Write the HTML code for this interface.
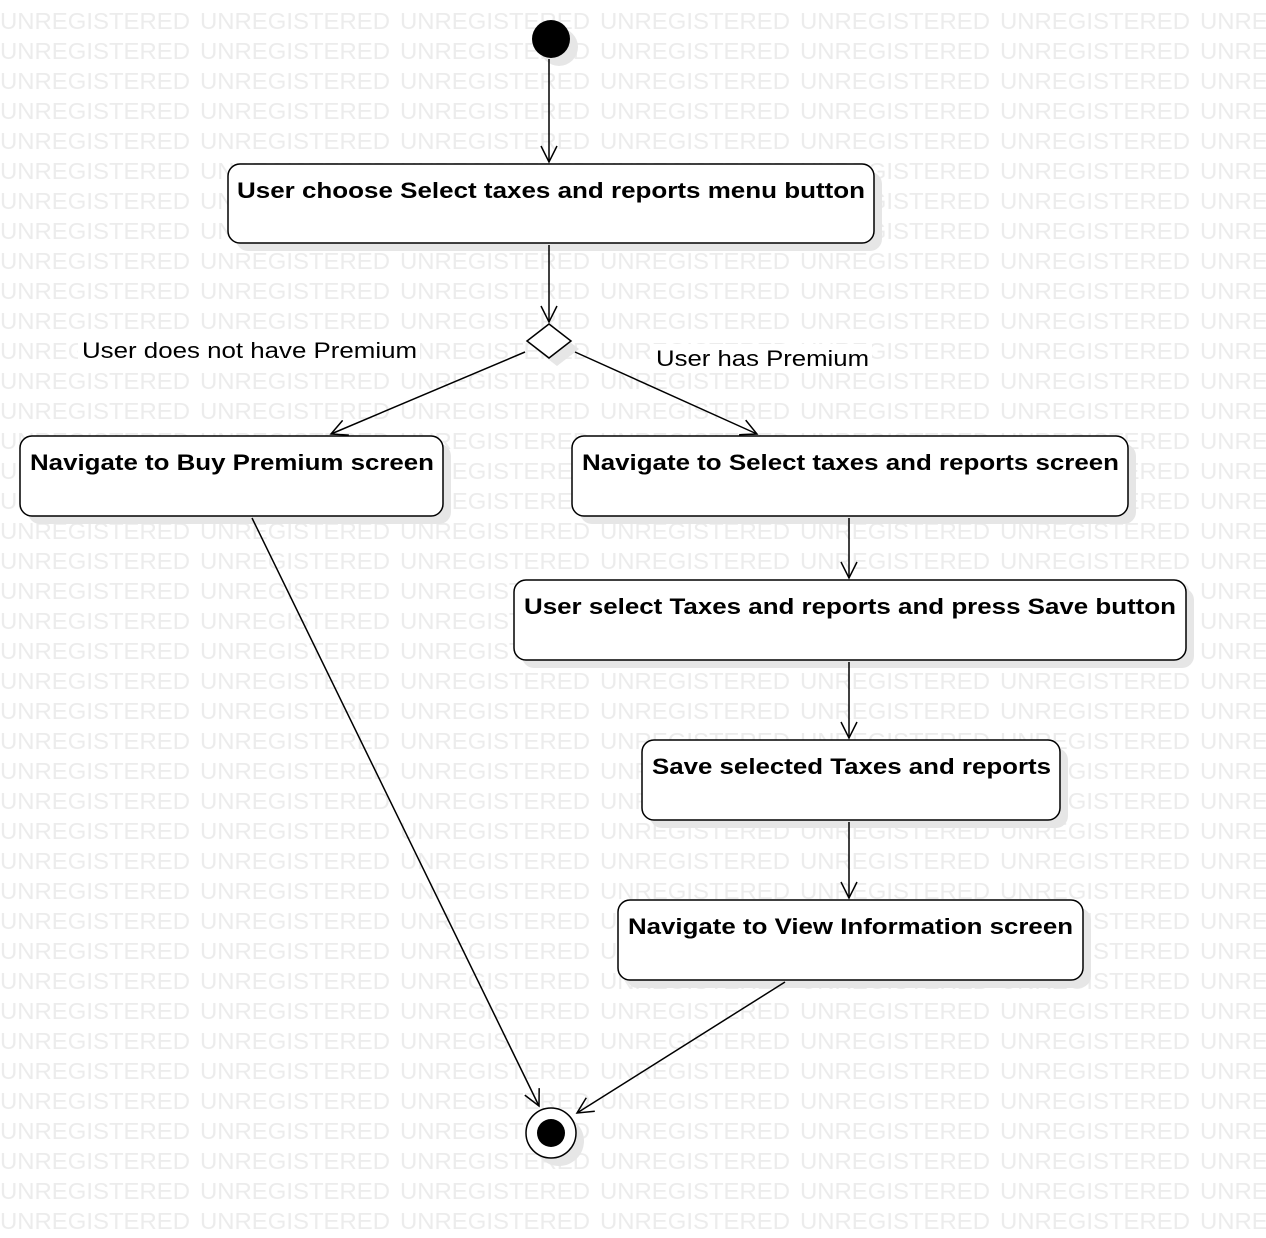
<!DOCTYPE html>
<html><head><meta charset="utf-8"><style>
html,body{margin:0;padding:0;background:#fff;}
svg{display:block;}
.wm{font-family:"Liberation Sans",sans-serif;font-size:23px;fill:#ececec;}
.b{font-family:"Liberation Sans",sans-serif;font-size:22px;font-weight:bold;fill:#000;}
.l{font-family:"Liberation Sans",sans-serif;font-size:22px;fill:#000;}
</style></head><body>
<svg width="1266" height="1238" viewBox="0 0 1266 1238" xmlns="http://www.w3.org/2000/svg">
<g id="wm"></g>
<script>
(function(){var g=document.getElementById('wm'),ns='http://www.w3.org/2000/svg';
for(var r=0;r<41;r++){for(var c=0;c<7;c++){var t=document.createElementNS(ns,'text');
t.setAttribute('x',c*200);t.setAttribute('y',29+r*30);t.setAttribute('class','wm');
t.setAttribute('textLength','190');t.setAttribute('lengthAdjust','spacingAndGlyphs');
t.textContent='UNREGISTERED';g.appendChild(t);}}})();
</script>
<defs>
<marker id="a" markerWidth="20" markerHeight="20" refX="18" refY="10" orient="auto" markerUnits="userSpaceOnUse">
<path d="M2,2 L18,10 L2,18" fill="none" stroke="#000" stroke-width="1.5"/>
</marker>
</defs>
<!-- shadows -->
<g fill="#e6e6e6">
<circle cx="559" cy="47" r="19"/>
<rect x="236" y="172" width="646" height="79" rx="12"/>
<rect x="28" y="444" width="423" height="80" rx="12"/>
<rect x="580" y="444" width="556" height="80" rx="12"/>
<rect x="522" y="588" width="672" height="80" rx="12"/>
<rect x="650" y="748" width="418" height="80" rx="12"/>
<rect x="626" y="908" width="465" height="80" rx="12"/>
<polygon points="557,332 579,349 557,366 535,349"/>
<circle cx="559" cy="1141" r="25"/>
</g>
<!-- start -->
<circle cx="551" cy="39" r="19" fill="#000"/>
<!-- boxes -->
<g fill="#fff" stroke="#000" stroke-width="1.5">
<rect x="228" y="164" width="646" height="79" rx="12"/>
<rect x="20" y="436" width="423" height="80" rx="12"/>
<rect x="572" y="436" width="556" height="80" rx="12"/>
<rect x="514" y="580" width="672" height="80" rx="12"/>
<rect x="642" y="740" width="418" height="80" rx="12"/>
<rect x="618" y="900" width="465" height="80" rx="12"/>
<polygon points="549,324 571,341 549,358 527,341"/>
<circle cx="551" cy="1133" r="25"/>
</g>
<circle cx="551" cy="1133" r="14" fill="#000"/>
<!-- connectors -->
<g stroke="#000" stroke-width="1.5" fill="none" marker-end="url(#a)">
<line x1="549" y1="59" x2="549" y2="162"/>
<line x1="549" y1="245" x2="549" y2="322"/>
<line x1="525" y1="352" x2="331" y2="434"/>
<line x1="575" y1="352" x2="757" y2="434"/>
<line x1="849" y1="518" x2="849" y2="578"/>
<line x1="849" y1="662" x2="849" y2="738"/>
<line x1="849" y1="822" x2="849" y2="898"/>
<line x1="252" y1="518" x2="539" y2="1106"/>
<line x1="785" y1="982" x2="577" y2="1113"/>
</g>
<!-- labels -->
<rect x="78" y="338" width="342" height="28" fill="#fff"/>
<text x="82" y="358" class="l" textLength="335" lengthAdjust="spacingAndGlyphs">User does not have Premium</text>
<rect x="652" y="344" width="220" height="28" fill="#fff"/>
<text x="656" y="366" class="l" textLength="213" lengthAdjust="spacingAndGlyphs">User has Premium</text>
<text x="237" y="198" class="b" textLength="628" lengthAdjust="spacingAndGlyphs">User choose Select taxes and reports menu button</text>
<text x="30" y="470" class="b" textLength="404" lengthAdjust="spacingAndGlyphs">Navigate to Buy Premium screen</text>
<text x="582" y="470" class="b" textLength="537" lengthAdjust="spacingAndGlyphs">Navigate to Select taxes and reports screen</text>
<text x="524" y="614" class="b" textLength="652" lengthAdjust="spacingAndGlyphs">User select Taxes and reports and press Save button</text>
<text x="652" y="774" class="b" textLength="399" lengthAdjust="spacingAndGlyphs">Save selected Taxes and reports</text>
<text x="628" y="934" class="b" textLength="445" lengthAdjust="spacingAndGlyphs">Navigate to View Information screen</text>
</svg>
</body></html>
